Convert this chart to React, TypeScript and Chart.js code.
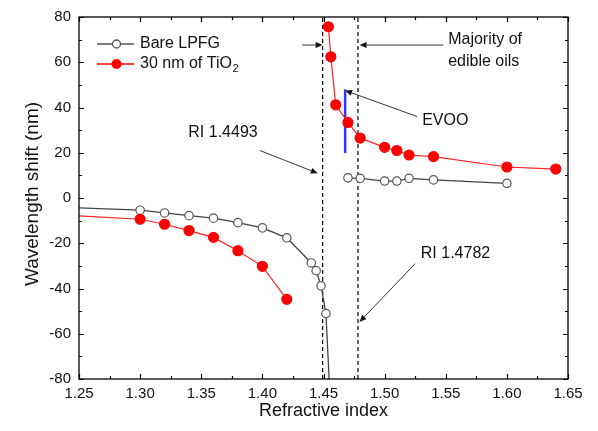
import React, { useEffect, useRef } from "react";
import { Chart, registerables } from "chart.js";

Chart.register(...registerables);

// ---- data ----
const bareLowX = [1.25, 1.30, 1.32, 1.34, 1.36, 1.38, 1.40, 1.42, 1.44, 1.444, 1.448, 1.452, 1.4546];
const bareLowY = [-4.4, -5.4, -6.6, -7.8, -8.9, -10.9, -13.2, -17.6, -28.7, -32.1, -38.8, -51.1, -80];
const bareHighX = [1.47, 1.48, 1.50, 1.51, 1.52, 1.54, 1.60];
const bareHighY = [8.9, 8.7, 7.5, 7.5, 8.7, 8.0, 6.5];
const redLowX = [1.25, 1.30, 1.32, 1.34, 1.36, 1.38, 1.40, 1.42];
const redLowY = [-7.9, -9.4, -11.6, -14.4, -17.4, -23.3, -30.2, -44.8];
const redHighX = [1.454, 1.456, 1.46, 1.47, 1.48, 1.50, 1.51, 1.52, 1.54, 1.60, 1.64];
const redHighY = [75.7, 62.4, 41.2, 33.4, 26.5, 22.4, 21.0, 19.0, 18.3, 13.7, 12.8];
const evooX = [1.4677, 1.4677];
const evooY = [19.9, 48.0];
const riLines = [1.4493, 1.4782];
const xRange = [1.25, 1.65];
const yRange = [-80, 80];
const legendLabels = ["Bare LPFG", "30 nm of TiO"];
const annotationTexts = [
  { text: "Majority of", x: 1.552, y: 69.8 },
  { text: "edible oils", x: 1.552, y: 60.5 },
  { text: "EVOO", x: 1.5307, y: 34.2 },
  { text: "RI 1.4493", x: 1.3394, y: 28.7 },
  { text: "RI 1.4782", x: 1.5296, y: -24.5 },
];
const annotationArrows = [
  { from: [1.4325, 67.6], to: [1.4493, 67.6] },
  { from: [1.548, 67.6], to: [1.4795, 67.6] },
  { from: [1.5266, 36.0], to: [1.4677, 47.5] },
  { from: [1.398, 21.0], to: [1.4453, 10.9] },
  { from: [1.525, -29.0], to: [1.4794, -54.8] },
];

const FONT = "'Liberation Sans', Arial, sans-serif";
const pts = (xs: number[], ys: number[]) => xs.map((x, i) => ({ x, y: ys[i] }));

const decorPlugin = {
  id: "decor",
  afterDatasetsDraw(chart: any) {
    const { ctx, chartArea: a, scales } = chart;
    const sx = scales.x, sy = scales.y;
    const px = (v: number) => sx.getPixelForValue(v);
    const py = (v: number) => sy.getPixelForValue(v);
    ctx.save();
    // frame
    ctx.strokeStyle = "#000";
    ctx.lineWidth = 1.3;
    ctx.strokeRect(a.left, a.top, a.right - a.left, a.bottom - a.top);
    // ticks
    ctx.lineWidth = 1.2;
    const xt = sx.ticks.map((t: any) => t.value);
    const yt = sy.ticks.map((t: any) => t.value);
    const drawX = (v: number, len: number) => {
      const p = Math.round(px(v)) + 0.5;
      ctx.beginPath();
      ctx.moveTo(p, a.bottom); ctx.lineTo(p, a.bottom - len);
      ctx.moveTo(p, a.top); ctx.lineTo(p, a.top + len);
      ctx.stroke();
    };
    const drawY = (v: number, len: number) => {
      const p = Math.round(py(v)) + 0.5;
      ctx.beginPath();
      ctx.moveTo(a.left, p); ctx.lineTo(a.left + len, p);
      ctx.moveTo(a.right, p); ctx.lineTo(a.right - len, p);
      ctx.stroke();
    };
    xt.forEach((v: number, i: number) => {
      drawX(v, 5);
      if (i < xt.length - 1) drawX((v + xt[i + 1]) / 2, 3);
    });
    yt.forEach((v: number, i: number) => {
      drawY(v, 5);
      if (i < yt.length - 1) drawY((v + yt[i + 1]) / 2, 3);
    });
    // arrows
    ctx.strokeStyle = "#333";
    ctx.fillStyle = "#111";
    ctx.lineWidth = 1;
    annotationArrows.forEach((ar) => {
      const x1 = px(ar.from[0]), y1 = py(ar.from[1]);
      const x2 = px(ar.to[0]), y2 = py(ar.to[1]);
      const ang = Math.atan2(y2 - y1, x2 - x1);
      const L = 7, W = 3;
      ctx.beginPath();
      ctx.moveTo(x1, y1);
      ctx.lineTo(x2 - Math.cos(ang) * L, y2 - Math.sin(ang) * L);
      ctx.stroke();
      ctx.beginPath();
      ctx.moveTo(x2, y2);
      ctx.lineTo(x2 - Math.cos(ang) * L - Math.sin(ang) * W, y2 - Math.sin(ang) * L + Math.cos(ang) * W);
      ctx.lineTo(x2 - Math.cos(ang) * L + Math.sin(ang) * W, y2 - Math.sin(ang) * L - Math.cos(ang) * W);
      ctx.closePath();
      ctx.fill();
    });
    // annotation texts
    ctx.fillStyle = "#111";
    ctx.font = `16px ${FONT}`;
    ctx.textAlign = "left";
    ctx.textBaseline = "middle";
    annotationTexts.forEach((t) => ctx.fillText(t.text, px(t.x), py(t.y)));
    // legend
    const lx0 = a.left + 18, lx1 = a.left + 55, mx = a.left + 37.5, tx = a.left + 61;
    const ly = [a.top + 27, a.top + 47];
    ctx.strokeStyle = "#555"; ctx.lineWidth = 1.3;
    ctx.beginPath(); ctx.moveTo(lx0, ly[0]); ctx.lineTo(lx1, ly[0]); ctx.stroke();
    ctx.fillStyle = "#fff"; ctx.strokeStyle = "#555";
    ctx.beginPath(); ctx.arc(mx, ly[0], 4, 0, Math.PI * 2); ctx.fill(); ctx.stroke();
    ctx.strokeStyle = "#ff0000";
    ctx.beginPath(); ctx.moveTo(lx0, ly[1]); ctx.lineTo(lx1, ly[1]); ctx.stroke();
    ctx.fillStyle = "#ff0000";
    ctx.beginPath(); ctx.arc(mx, ly[1], 5, 0, Math.PI * 2); ctx.fill();
    ctx.fillStyle = "#111";
    ctx.font = `16px ${FONT}`;
    ctx.fillText(legendLabels[0], tx, ly[0]);
    ctx.fillText(legendLabels[1], tx, ly[1]);
    const w = ctx.measureText(legendLabels[1]).width;
    ctx.font = `11px ${FONT}`;
    ctx.fillText("2", tx + w + 0.5, ly[1] + 5);
    // axis titles
    ctx.font = `18px ${FONT}`;
    ctx.textAlign = "center";
    ctx.fillText("Refractive index", (a.left + a.right) / 2, 411);
    ctx.save();
    ctx.translate(33, (a.top + a.bottom) / 2 - 4);
    ctx.rotate(-Math.PI / 2);
    ctx.font = `19px ${FONT}`;
    ctx.fillText("Wavelength shift (nm)", 0, 0);
    ctx.restore();
    ctx.restore();
  },
};

export default function App() {
  const ref = useRef<HTMLCanvasElement>(null);
  useEffect(() => {
    if (!ref.current) return;
    const dashed = riLines.map((x) => ({
      type: "line" as const,
      data: [{ x, y: yRange[0] }, { x, y: yRange[1] }],
      borderColor: "#000",
      borderWidth: 1.2,
      borderDash: [4, 3],
      pointRadius: 0,
      order: 10,
    }));
    const chart = new Chart(ref.current, {
      type: "line",
      data: {
        datasets: [
          ...dashed,
          {
            label: "Bare LPFG",
            data: pts(bareLowX, bareLowY),
            borderColor: "#444",
            borderWidth: 1.3,
            backgroundColor: "#fff",
            pointBorderColor: "#555",
            pointBorderWidth: 1.2,
            pointRadius: bareLowX.map((_, i) => (i === 0 || i === bareLowX.length - 1 ? 0 : 4.2)),
            order: 2,
          },
          {
            label: "Bare LPFG high",
            data: pts(bareHighX, bareHighY),
            borderColor: "#444",
            borderWidth: 1.3,
            backgroundColor: "#fff",
            pointBorderColor: "#555",
            pointBorderWidth: 1.2,
            pointRadius: 4.2,
            order: 2,
          },
          {
            label: "30 nm of TiO2",
            data: pts(redLowX, redLowY),
            borderColor: "#ff2020",
            borderWidth: 1.2,
            backgroundColor: "#ff0000",
            pointBorderColor: "#ff0000",
            pointRadius: redLowX.map((_, i) => (i === 0 ? 0 : 5)),
            order: 1,
          },
          {
            label: "30 nm of TiO2 high",
            data: pts(redHighX, redHighY),
            borderColor: "#ff2020",
            borderWidth: 1.2,
            backgroundColor: "#ff0000",
            pointBorderColor: "#ff0000",
            pointRadius: 5,
            order: 1,
          },
          {
            label: "EVOO",
            data: pts(evooX, evooY),
            borderColor: "#3333ff",
            borderWidth: 2.5,
            pointRadius: 0,
            order: 3,
          },
        ],
      },
      options: {
        animation: false,
        responsive: false,
        layout: { padding: { top: 15, right: 30, left: 0, bottom: 0 } },
        plugins: { legend: { display: false }, tooltip: { enabled: false } },
        scales: {
          x: {
            type: "linear",
            min: xRange[0],
            max: xRange[1],
            grid: { display: false, drawTicks: false, tickLength: 0 },
            border: { display: false },
            ticks: {
              stepSize: 0.05,
              padding: 6,
              color: "#111",
              font: { family: FONT, size: 15 },
              maxRotation: 0,
              callback: (v: any) => Number(v).toFixed(2),
            },
            afterFit: (s: any) => { s.height = 52; },
          },
          y: {
            type: "linear",
            min: yRange[0],
            max: yRange[1],
            grid: { display: false, drawTicks: false, tickLength: 0 },
            border: { display: false },
            ticks: {
              stepSize: 20,
              padding: 8,
              color: "#111",
              font: { family: FONT, size: 15 },
            },
            afterFit: (s: any) => { s.width = 79; },
          },
        },
      },
      plugins: [decorPlugin],
    });
    return () => chart.destroy();
  }, []);
  return (
    <div style={{ position: "fixed", left: 0, top: 0, width: 598, height: 431, background: "#fff" }}>
      <canvas ref={ref} width={598} height={431} />
    </div>
  );
}
